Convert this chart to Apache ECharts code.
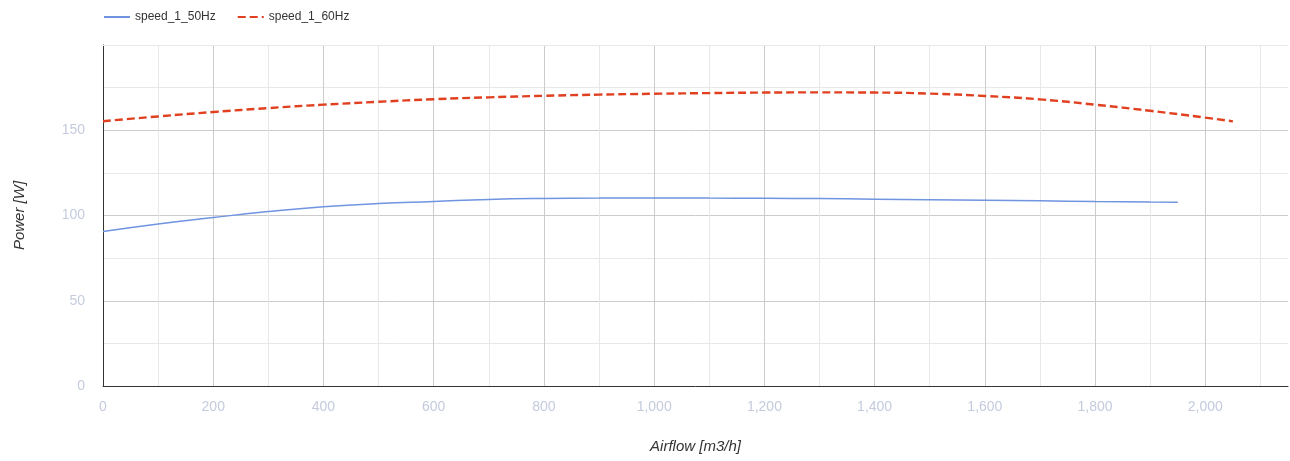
<!DOCTYPE html>
<html>
<head>
<meta charset="utf-8">
<script src="https://cdn.jsdelivr.net/npm/echarts@6/dist/echarts.min.js"></script>
<style>html,body{margin:0;padding:0;background:#fff}#c{width:1290px;height:461px}</style>
</head>
<body>
<div id="c"></div>
<script>
var airflow50 = [0,100,200,300,400,500,600,700,800,900,1000,1100,1200,1300,1400,1500,1600,1700,1800,1900,1950];
var power50 = [90.6,95,98.8,102.3,105.1,107,108.2,109.4,110,110.2,110.3,110.2,110.1,109.9,109.6,109.3,109,108.6,108.2,107.9,107.8];
var airflow60 = [0,100,200,300,400,500,600,700,800,900,1000,1100,1200,1300,1400,1500,1600,1700,1800,1900,2000,2050];
var power60 = [155.3,158.1,160.7,163.0,165,166.7,168.2,169.3,170.2,170.9,171.4,171.8,172.1,172.2,172.1,171.5,170.1,168.1,165,161.4,157.4,155.2];
var seriesNames = ['speed_1_50Hz','speed_1_60Hz'];
var xName = 'Airflow [m3/h]';
var yName = 'Power [W]';

function pairs(xs, ys){ return xs.map(function(x,i){ return [x, ys[i]]; }); }

var chart = echarts.init(document.getElementById('c'), null, {renderer:'canvas'});
var labelColor = '#c5cbdd';
chart.setOption({
  animation:false,
  textStyle:{fontFamily:'Arial'},
  legend:{
    left:98, top:6, itemWidth:26, itemHeight:10, itemGap:21,
    itemStyle:{opacity:0},
    textStyle:{fontSize:12, color:'#333', fontFamily:'Arial'},
    data:seriesNames
  },
  grid:{left:103, right:2, top:45, bottom:75, containLabel:false},
  xAxis:[{
    type:'value', min:0, max:2150, interval:100,
    name:xName, nameLocation:'middle', nameGap:53,
    nameTextStyle:{fontStyle:'italic', fontSize:15, color:'#333'},
    axisLine:{show:true, lineStyle:{color:'#333', width:1}},
    axisTick:{show:false},
    axisLabel:{interval:0, color:labelColor, fontSize:14, margin:14, showMaxLabel:false,
      formatter:function(v){ if (v % 200 !== 0 || v > 2100) return ''; return v.toLocaleString('en-US'); }},
    splitLine:{show:true, showMinLine:false, showMaxLine:false, lineStyle:{color:['#e8e8e8','#cccccc'], width:1}}
  },{
    type:'value', position:'top', min:0, max:2150,
    axisLine:{show:true, lineStyle:{color:'#e8e8e8'}},
    axisTick:{show:false}, axisLabel:{show:false}, splitLine:{show:false}
  }],
  yAxis:{
    type:'value', min:0, max:200, interval:25,
    name:yName, nameLocation:'middle', nameGap:76, nameRotate:90,
    nameTextStyle:{fontStyle:'italic', fontSize:15, color:'#333'},
    axisLine:{show:true, lineStyle:{color:'#333', width:1}},
    axisTick:{show:false},
    axisLabel:{color:labelColor, fontSize:14, margin:18, showMaxLabel:false,
      formatter:function(v){ return (v % 50 === 0 && v < 200) ? String(v) : ''; }},
    splitLine:{show:true, showMinLine:false, showMaxLine:false, lineStyle:{color:['#e8e8e8','#cccccc'], width:1}}
  },
  series:[{
    name:seriesNames[0], type:'line', smooth:true, showSymbol:false, symbol:'none',
    data:pairs(airflow50, power50),
    lineStyle:{color:'#6f94e0', width:1.5},
    itemStyle:{color:'#6f94e0'}
  },{
    name:seriesNames[1], type:'line', smooth:true, showSymbol:false, symbol:'none',
    data:pairs(airflow60, power60),
    lineStyle:{color:'#e0401f', width:2.4, type:[8,4]},
    itemStyle:{color:'#e0401f'}
  }]
});
</script>
</body>
</html>
